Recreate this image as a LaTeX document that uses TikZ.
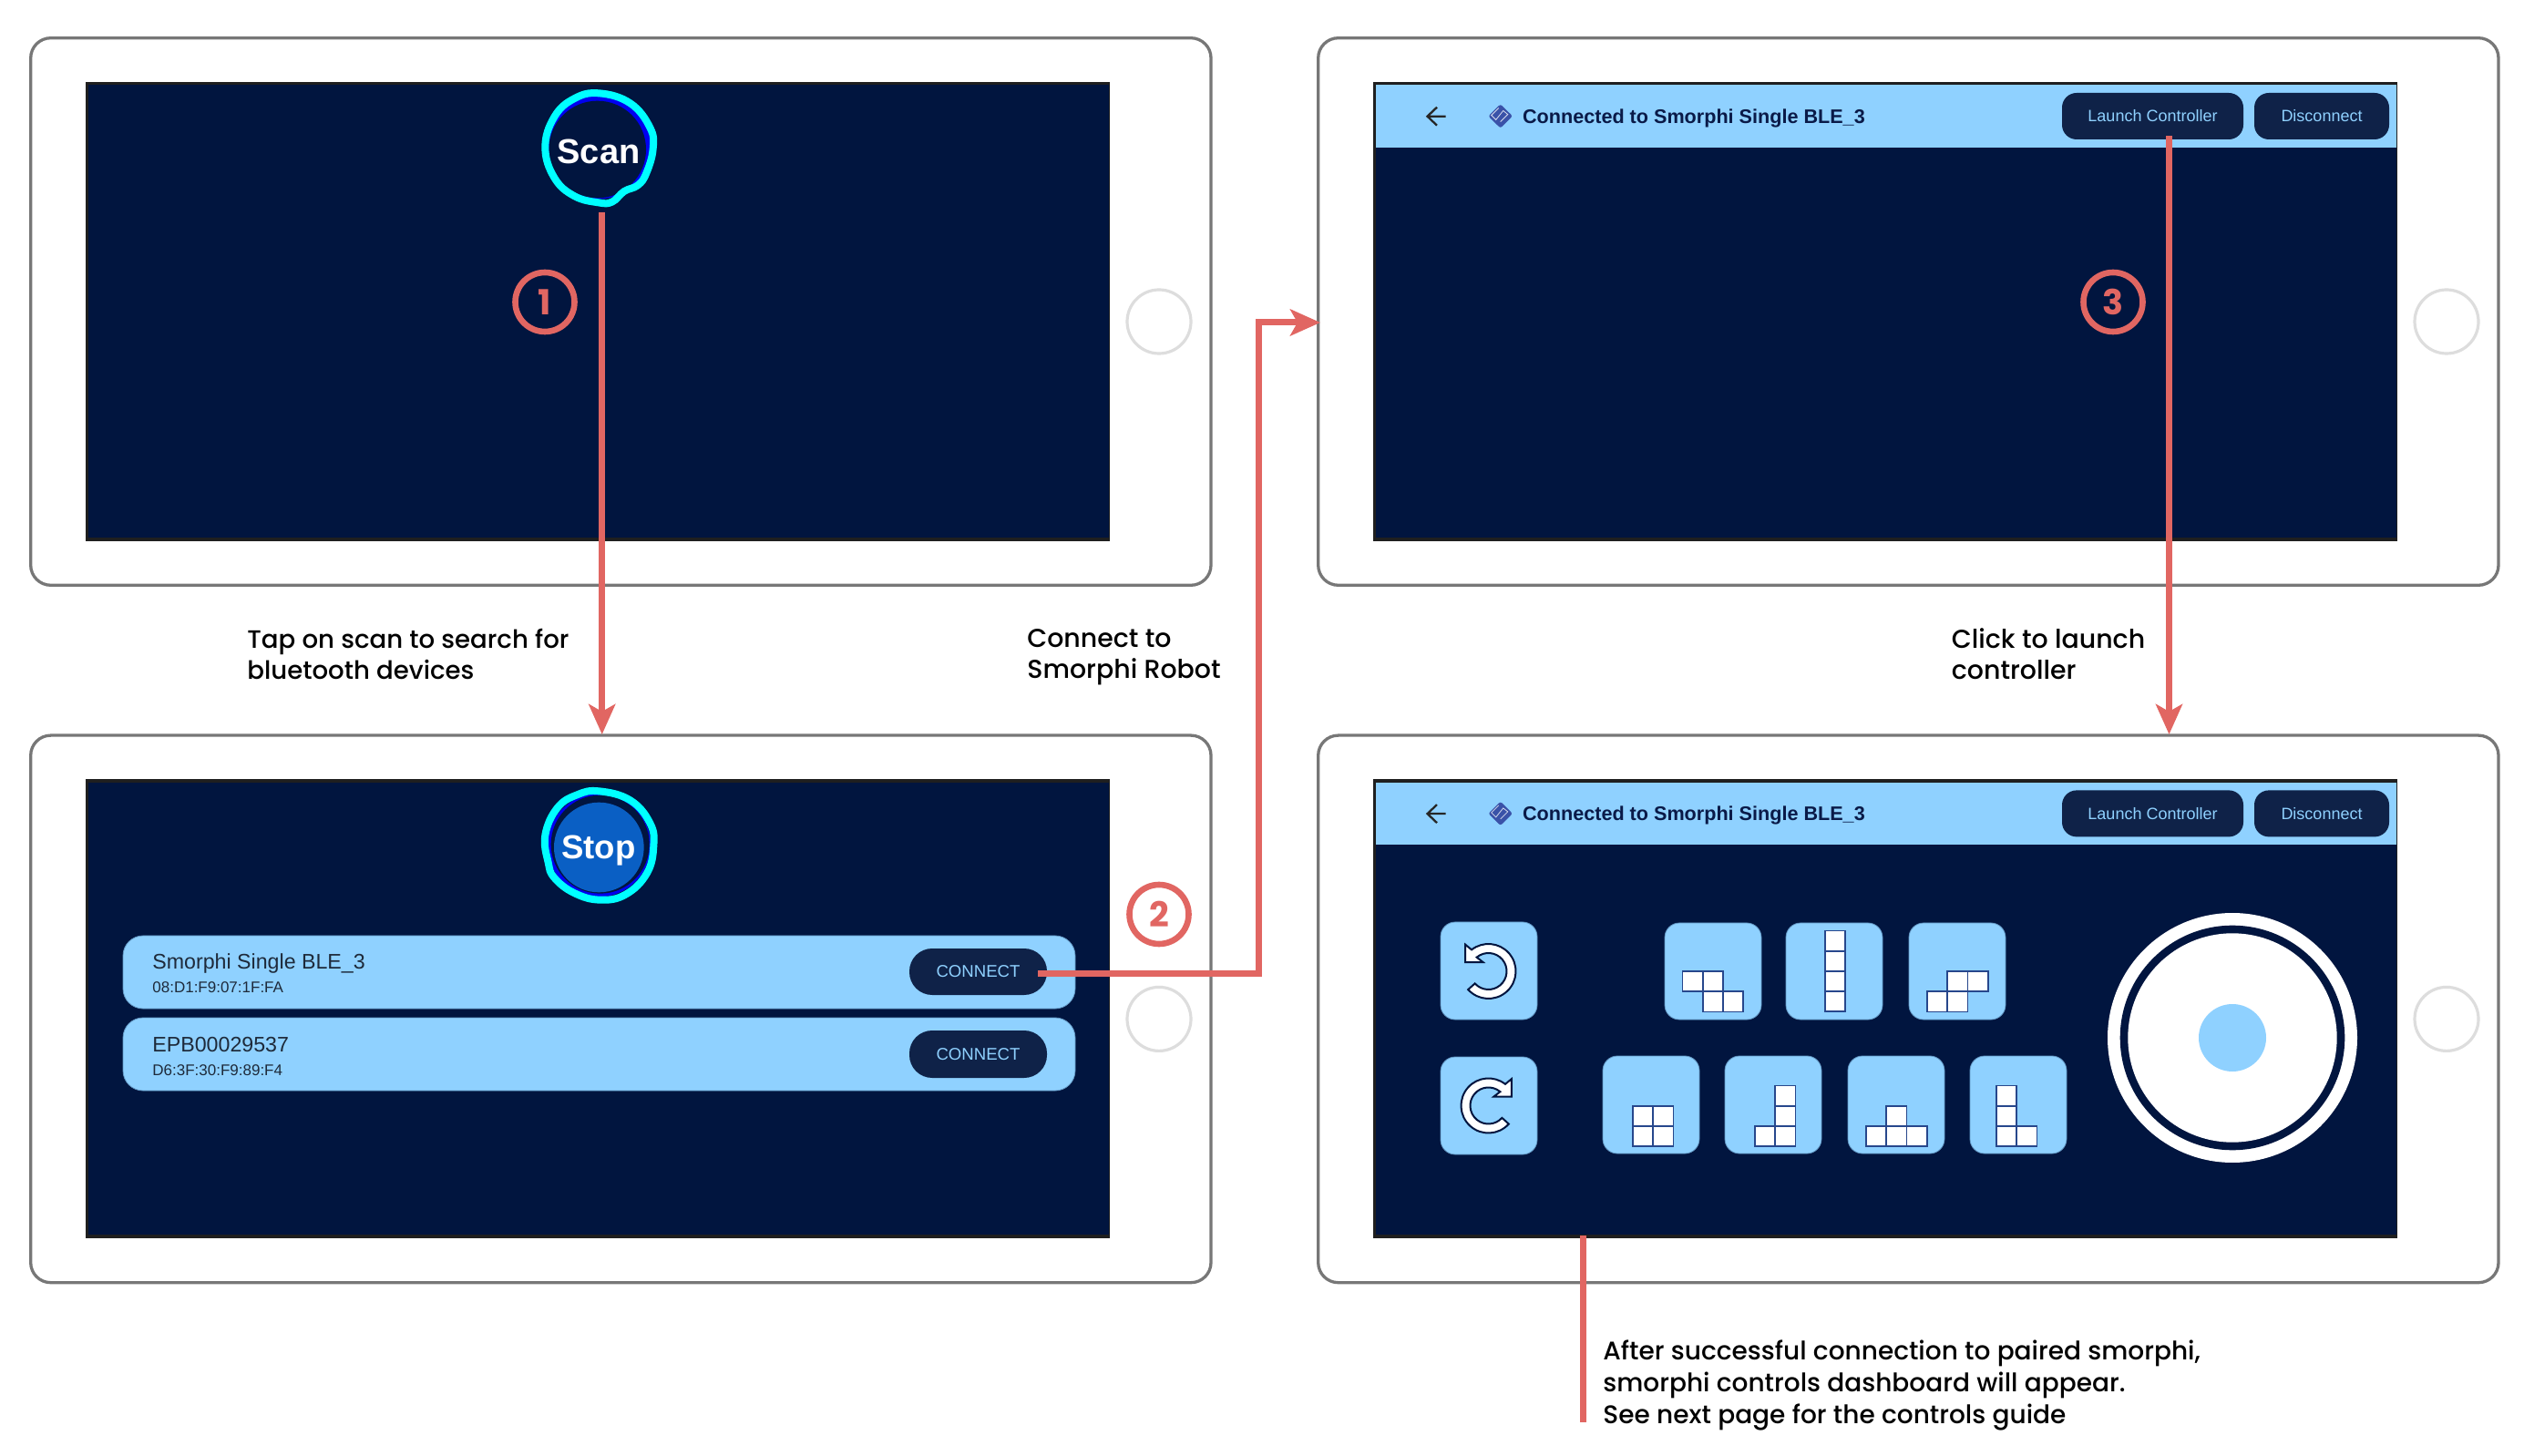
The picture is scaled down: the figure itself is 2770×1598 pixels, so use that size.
\documentclass[tikz,border=0pt]{standalone}
\usepackage{fontspec}
\usepackage{graphicx}
\setmainfont{Liberation Sans}
\newfontfamily\popm{Poppins Medium}
\newfontfamily\pop{Poppins}
\usetikzlibrary{arrows.meta}
\definecolor{scrnavy}{HTML}{01153F}
\definecolor{skyb}{HTML}{8FD1FF}
\definecolor{btnnavy}{HTML}{0F2248}
\definecolor{devgray}{HTML}{777777}
\definecolor{homegray}{HTML}{DDDDDD}
\definecolor{redc}{HTML}{E16662}
\definecolor{cyanr}{HTML}{00FFFF}
\definecolor{bluer}{HTML}{0000F0}
\definecolor{stopb}{HTML}{0A5FC4}
\definecolor{cellb}{HTML}{27478C}
\definecolor{darkt}{HTML}{1E2A3A}
\definecolor{headt}{HTML}{0A1A48}
\definecolor{diam}{HTML}{3A52A8}
\newcommand\fs[1]{\fontsize{#1pt}{1.2em}\selectfont}
\newcommand\ag{\vphantom{Apg}}
% rectangle node from two corners (picture pixels)
\newcommand\boxat[7]{%
  \pgfmathsetmacro\cxx{(#3+#5)/2}\pgfmathsetmacro\cyy{(#4+#6)/2}%
  \pgfmathsetmacro\www{(#5-#3)*0.5}\pgfmathsetmacro\hhh{(#6-#4)*0.5}%
  \node[#2,minimum width=\www pt,minimum height=\hhh pt] (#1) at (\cxx,\cyy) {#7};}
% polyomino cells: left x, top y of grid, list col/row
\newcommand\cells[3]{\foreach \c/\r in {#3}{%
  \draw[cellstyle] ({#1+\c*22.2},{#2+\r*22.2}) rectangle ++(22.2,22.2);}}
\tikzset{
  rr/.style={rectangle,inner sep=0pt,outer sep=0pt},
  tablet/.style={rr,draw=devgray,line width=1.65pt,fill=white,rounded corners=11pt},
  scrdark/.style={rr,fill=black!88},
  scrfill/.style={rr,fill=scrnavy},
  barfill/.style={rr,fill=skyb},
  tile/.style={rr,fill=skyb,draw=skyb!70!scrnavy,line width=0.4pt,rounded corners=8pt},
  rowb/.style={rr,fill=skyb,draw=skyb!70!scrnavy,line width=0.4pt,rounded corners=11pt},
  pill/.style={rr,fill=btnnavy,rounded corners=12.5pt,text=skyb,font=\fs{9.3}},
  topbtn/.style={rr,fill=btnnavy,rounded corners=8pt,text=skyb,font=\fs{9}},
  cellstyle/.style={draw=cellb,fill=white,line width=0.9pt},
  conn/.style={draw=redc,line width=3.5pt},
  arrowed/.style={conn,-{Stealth[length=16.5pt,width=14.5pt,inset=4pt]}},
  numring/.style={circle,draw=redc,line width=3.3pt,minimum size=32.5pt,inner sep=0pt,text=redc,font=\pop\bfseries\fs{19}},
  homebtn/.style={circle,draw=homegray,line width=1.6pt,minimum size=35pt,inner sep=0pt},
  lbl/.style={anchor=west,inner sep=0pt,align=left,text=black,font=\popm\fontsize{13.8pt}{17.3pt}\selectfont},
  lblb/.style={lbl,font=\popm\fontsize{14pt}{17.4pt}\selectfont},
  lblc/.style={lbl,font=\popm\fontsize{14.2pt}{17.3pt}\selectfont},
  utext/.style={anchor=west,inner sep=0pt,text=darkt},
  rot/.style={draw=scrnavy,fill=white,line width=1pt,line join=miter}
}
\begin{document}
\begin{tikzpicture}[x=0.5pt,y=-0.5pt]
\useasboundingbox (0,0) rectangle (2770,1598);
\fill[white] (0,0) rectangle (2770,1598);

% devices
\foreach \ox/\oy/\s in {0/0/a,1413/0/b,0/765.4/c,1413/765.4/d}{
  \begin{scope}[shift={(\ox,\oy)}]
    \boxat{tablet\s}{tablet}{33.7}{41.7}{1329}{642.3}{}
    \boxat{dark\s}{scrdark}{94}{90}{1218}{594}{}
    \boxat{screen\s}{scrfill}{97}{93.3}{1216.5}{590}{}
    \node[homebtn] (home\s) at (1272,353) {};
  \end{scope}
}

% headers of the connected screens
\foreach \oy/\s in {0/b,765.4/d}{
  \begin{scope}[shift={(0,\oy)}]
    \boxat{bar\s}{barfill}{1510}{93.3}{2629.5}{161.7}{}
    \draw[black!85,line width=1.15pt,line join=miter] (1586.7,127.7) -- (1566.5,127.7) (1577,117.7) -- (1566.5,127.7) -- (1577,137.7);
    \fill[diam,rounded corners=1.2pt] (1646.7,114.3) -- (1660,127.5) -- (1646.7,140.7) -- (1633.4,127.5) -- cycle;
    \begin{scope}[shift={(1646.7,127.5)}]
      \draw[white!80!diam,line width=0.4pt] (-2,-9) -- (-10,-1) -- (-5,4) -- (3,-6) -- (8,-2) -- (0,6);
    \end{scope}
    \node[utext,text=headt,font=\bfseries\fs{10.8}] (title\s) at (1670.7,130) {Connected to Smorphi Single BLE\_3};
    \boxat{launch\s}{topbtn}{2263}{102}{2462}{153}{Launch Controller}
    \boxat{disc\s}{topbtn}{2474}{102}{2622}{153}{Disconnect}
  \end{scope}
}

% scan button
\begin{scope}[shift={(500,60)},x=0.16667pt,y=-0.16667pt]
  \fill[bluer] (472,305) circle[radius=170];
  \fill[scrnavy] (467,312) circle[radius=160];
  \draw[cyanr,line width=4pt] plot[smooth cycle,tension=0.7] coordinates {(472,127) (575,160) (640,240) (650,310) (628,390) (600,430) (555,450) (515,485) (470,487) (390,465) (325,405) (295,305) (325,205) (390,145)};
\end{scope}
\node[inner sep=0pt,text=white,font=\bfseries\fs{19}] (scan) at (657,166) {Scan};

% stop button
\begin{scope}[shift={(500,840)},x=0.16667pt,y=-0.16667pt]
  \fill[bluer] (472,263) circle[radius=170];
  \fill[scrnavy] (476,260) circle[radius=162];
  \fill[stopb] (472,270) circle[radius=148];
  \draw[cyanr,line width=4pt] plot[smooth cycle,tension=0.7] coordinates {(472,85) (575,115) (640,190) (652,265) (630,355) (560,425) (475,443) (390,420) (325,370) (305,320) (295,230) (335,140) (400,97)};
\end{scope}
\node[inner sep=0pt,text=white,font=\bfseries\fs{18.3}] (stop) at (657,934) {Stop};

% device rows
\boxat{row1}{rowb}{135}{1027}{1180}{1107}{}
\boxat{row2}{rowb}{135}{1117}{1180}{1197}{}
\node[utext,font=\fs{11.6}] (name1) at (167,1057.5) {Smorphi Single BLE\_3};
\node[utext,font=\fs{8.5}] (mac1) at (167,1083.5) {08:D1:F9:07:1F:FA};
\node[utext,font=\fs{11.6}] (name2) at (167,1147) {EPB00029537};
\node[utext,font=\fs{8.5}] (mac2) at (167,1174.5) {D6:3F:30:F9:89:F4};
\boxat{conn1}{pill}{998}{1041}{1149}{1092}{CONNECT}
\boxat{conn2}{pill}{998}{1131}{1149}{1183}{CONNECT}

% controller: rotation buttons
\boxat{undo}{tile}{1581}{1012}{1687}{1119}{}
\boxat{redo}{tile}{1581}{1160}{1687}{1267}{}
\begin{scope}[shift={(1633.5,1066)},x=0.5pt,y=0.5pt]
  \draw[rot] (222:30) arc[start angle=222,end angle=488,radius=30] -- (-25.3,29.3) -- (-25.3,10) -- (-6,10) -- (130:20) arc[start angle=490,end angle=222,radius=20] -- cycle;
\end{scope}
\begin{scope}[shift={(1633.5,1213.5)},x=-0.5pt,y=0.5pt]
  \draw[rot] (222:30) arc[start angle=222,end angle=488,radius=30] -- (-25.3,29.3) -- (-25.3,10) -- (-6,10) -- (130:20) arc[start angle=490,end angle=222,radius=20] -- cycle;
\end{scope}

% controller: shape tiles
\boxat{t1}{tile}{1827}{1013}{1933}{1119}{}
\boxat{t2}{tile}{1960}{1013}{2066}{1119}{}
\boxat{t3}{tile}{2095}{1013}{2201}{1119}{}
\boxat{t4}{tile}{1759}{1159}{1865}{1266}{}
\boxat{t5}{tile}{1893}{1159}{1999}{1266}{}
\boxat{t6}{tile}{2028}{1159}{2134}{1266}{}
\boxat{t7}{tile}{2162}{1159}{2268}{1266}{}
\cells{1846.4}{1066}{0/0,1/0,1/1,2/1}
\cells{2002.7}{1021.5}{0/0,0/1,0/2,0/3}
\cells{2115}{1066}{1/0,2/0,0/1,1/1}
\cells{1792}{1213.7}{0/0,1/0,0/1,1/1}
\cells{1926}{1191.5}{1/0,1/1,0/2,1/2}
\cells{2048}{1213.7}{1/0,0/1,1/1,2/1}
\cells{2191}{1191.5}{0/0,0/1,0/2,1/2}

% joystick
\fill[white] (2450,1139) circle[radius=137];
\fill[scrnavy] (2450,1139) circle[radius=123.3];
\fill[white] (2450,1139) circle[radius=114.7];
\fill[skyb] (2450,1139) circle[radius=37];

% connectors
\coordinate (a1s) at (660.7,233);
\coordinate (a1e) at (660.7,806);
\coordinate (a2s) at (1139,1068);
\coordinate (a2e) at (1449,354);
\coordinate (a3s) at (2380.5,149);
\coordinate (a3e) at (2380.5,806);
\coordinate (a4s) at (1737,1356);
\coordinate (a4e) at (1737,1561);
\draw[arrowed] (a1s) -- (a1e);
\draw[arrowed] (a2s) -- (1381,1068) |- (a2e);
\draw[arrowed] (a3s) -- (a3e);
\draw[conn] (a4s) -- (a4e);

% step numbers
\node[numring] (n1) at (598,331.5) {1};
\node[numring] (n2) at (1272,1003.5) {2};
\node[numring] (n3) at (2319,331.5) {3};

% captions
\node[lbl] (cap1) at (271,721.5) {\ag Tap on scan to search for\\\ag bluetooth devices};
\node[lblc] (cap2) at (1127,721.5) {\ag Connect to\\\ag Smorphi Robot};
\node[lblc] (cap3) at (2141.5,721.5) {\ag Click to launch\\\ag controller};
\node[lblb] (cap4) at (1759,1520.5) {\ag After successful connection to paired smorphi,\\\ag smorphi controls dashboard will appear.\\\ag See next page for the controls guide};
\end{tikzpicture}
\end{document}
